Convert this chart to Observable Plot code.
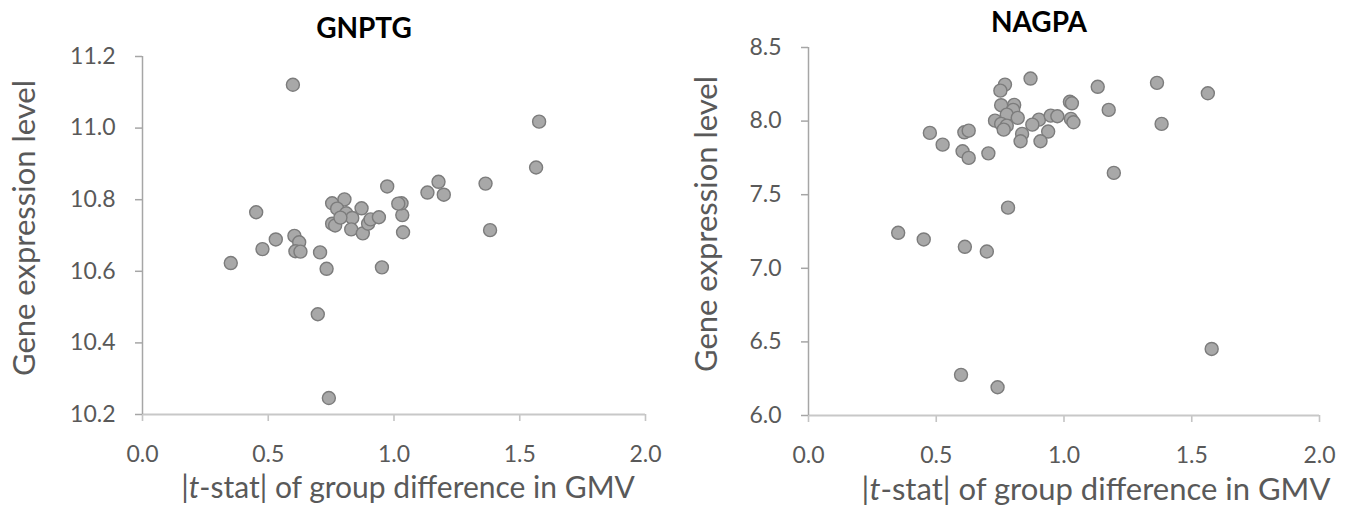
<!DOCTYPE html>
<html><head><meta charset="utf-8">
<script src="https://cdn.jsdelivr.net/npm/d3@7"></script>
<script src="https://cdn.jsdelivr.net/npm/@observablehq/plot@0.6"></script>
<style>
body{margin:0;background:#fff;}
#wrap{position:relative;width:1357px;height:513px;overflow:hidden;background:#fff;}
#wrap svg{position:absolute;top:0;}
</style></head><body><div id="wrap"></div>
<script>
// ---- data ----
const xTicks = [0, 0.5, 1.0, 1.5, 2.0];
const gnptgYTicks = [10.2, 10.4, 10.6, 10.8, 11.0, 11.2];
const nagpaYTicks = [6.0, 6.5, 7.0, 7.5, 8.0, 8.5];

const gnptgX = [0.598,1.577,1.565,0.973,1.177,1.133,1.198,1.364,1.382,0.452,0.530,0.477,0.351,0.604,0.623,0.608,0.628,0.706,0.732,0.697,0.741,0.952,1.036,1.033,1.030,1.017,0.754,0.803,0.774,0.810,0.834,0.871,0.754,0.766,0.830,0.876,0.897,0.907,0.940,0.787];
const gnptgY = [11.121,11.018,10.890,10.837,10.850,10.820,10.814,10.845,10.715,10.765,10.689,10.662,10.623,10.699,10.681,10.656,10.655,10.653,10.607,10.480,10.246,10.611,10.709,10.757,10.790,10.789,10.790,10.801,10.775,10.762,10.749,10.776,10.733,10.728,10.717,10.706,10.733,10.745,10.751,10.750];

const nagpaX = [0.869,0.769,0.751,1.132,1.364,1.563,1.175,1.382,1.023,1.031,1.027,1.037,0.754,0.805,0.801,0.776,0.819,0.730,0.754,0.776,0.764,0.902,0.876,0.948,0.974,0.938,0.836,0.830,0.908,0.475,0.610,0.627,0.525,0.603,0.627,0.704,1.195,0.781,0.351,0.451,0.612,0.698,1.578,0.597,0.740];
const nagpaY = [8.289,8.248,8.207,8.233,8.260,8.189,8.076,7.981,8.131,8.121,8.015,7.992,8.108,8.110,8.076,8.044,8.022,8.003,7.981,7.969,7.942,8.010,7.976,8.037,8.033,7.929,7.913,7.863,7.863,7.920,7.924,7.935,7.840,7.795,7.750,7.781,7.648,7.412,7.241,7.196,7.146,7.114,6.452,6.276,6.192];

const FONT = "Lato, 'Open Sans', sans-serif";
const fmt = d3.format(".1f");

function panel(o) {
  const data = o.xs.map((x, i) => ({x, y: o.ys[i]}));
  const svg = Plot.plot({
    width: o.w, height: 513,
    marginLeft: o.ml, marginRight: o.mr, marginTop: o.mt, marginBottom: o.mb,
    x: {domain: [0, 2]},
    y: {domain: [o.yTicks[0], o.yTicks[o.yTicks.length - 1]]},
    style: {fontFamily: FONT, background: "white", color: "#595959", overflow: "visible"},
    marks: [
      Plot.axisX({ticks: xTicks, tickFormat: fmt, tickSize: 7, tickPadding: 24, fontSize: 23,
                  stroke: "#c4c4c4", strokeWidth: 1.6, fill: "#595959", label: null}),
      Plot.axisY({ticks: o.yTicks, tickFormat: fmt, tickSize: 7, tickPadding: 20, fontSize: 23,
                  stroke: "#a6a6a6", strokeWidth: 1.5, fill: "#595959", label: null}),
      Plot.ruleY([o.yTicks[0]], {stroke: "#c8c8c8", strokeWidth: 2}),
      Plot.ruleX([0], {stroke: "#a6a6a6", strokeWidth: 1.5}),
      Plot.dot(data, {x: "x", y: "y", r: 6.5, fill: "#a8a8a8", stroke: "#7c7c7c", strokeWidth: 1.4})
    ]
  });
  svg.style.left = o.left + "px";
  const s = d3.select(svg);
  s.append("text").attr("x", o.titleX).attr("y", o.titleBase)
    .attr("text-anchor", "middle").attr("font-family", FONT).attr("font-weight", "bold")
    .attr("font-size", 28).attr("fill", "#000").text(o.title);
  s.append("text").attr("transform", `translate(${o.ylabX},${o.ylabY}) rotate(-90)`)
    .attr("text-anchor", "middle").attr("font-family", FONT).attr("font-size", 31)
    .attr("fill", "#595959").text("Gene expression level");
  const t = s.append("text").attr("x", o.xlabX).attr("y", o.xlabBase)
    .attr("text-anchor", "middle").attr("font-family", FONT).attr("font-size", o.xlabSize)
    .attr("fill", "#595959");
  t.append("tspan").text("|");
  t.append("tspan").attr("font-style", "italic").text("t");
  t.append("tspan").text("-stat| of group difference in GMV");
  document.getElementById("wrap").appendChild(svg);
}

panel({xs: gnptgX, ys: gnptgY, yTicks: gnptgYTicks, w: 680, left: 0,
  ml: 142, mr: 35, mt: 56, mb: 99,
  title: "GNPTG", titleX: 364, titleBase: 38,
  ylabX: 35, ylabY: 228, xlabX: 408, xlabBase: 498, xlabSize: 30});

panel({xs: nagpaX, ys: nagpaY, yTicks: nagpaYTicks, w: 677, left: 680,
  ml: 128, mr: 38, mt: 47, mb: 98,
  title: "NAGPA", titleX: 359, titleBase: 32,
  ylabX: 37, ylabY: 224, xlabX: 416, xlabBase: 500, xlabSize: 31});
</script></body></html>
